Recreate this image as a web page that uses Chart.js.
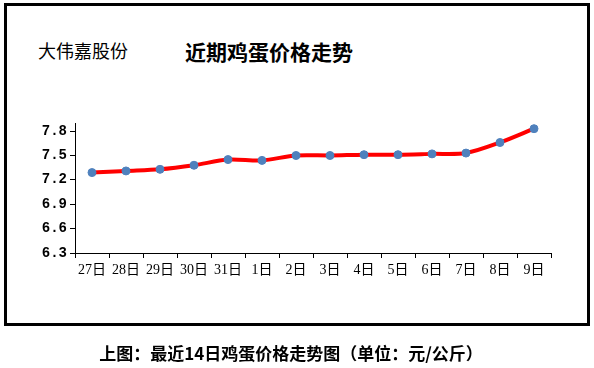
<!DOCTYPE html>
<html>
<head>
<meta charset="utf-8">
<script src="https://cdn.jsdelivr.net/npm/chart.js@4"></script>
<style>
  body { margin: 0; background: #fff; }
  #wrap { position: relative; width: 594px; height: 368px; }
  #box { position: absolute; left: 4px; top: 3px; width: 580px; height: 317px; border: 3px solid #000; }
  .txt { position: absolute; line-height: 1; white-space: nowrap; font-family: "Noto Sans CJK SC", sans-serif; color: #000; }
  #brand { left: 38px; top: 41px; font-size: 18px; }
  #title { left: 185px; top: 41px; font-size: 21px; font-weight: bold; }
  #caption { left: 0; width: 582px; text-align: center; top: 344px; font-size: 17px; font-weight: bold; }
  canvas { position: absolute; left: 0; top: 0; }
</style>
</head>
<body>
<div id="wrap">
  <div id="box"></div>
  <div class="txt" id="brand">大伟嘉股份</div>
  <div class="txt" id="title">近期鸡蛋价格走势</div>
  <canvas id="c" width="594" height="368"></canvas>
  <div class="txt" id="caption">上图：最近14日鸡蛋价格走势图（单位：元/公斤）</div>
</div>
<script>
let days = ['27日','28日','29日','30日','31日','1日','2日','3日','4日','5日','6日','7日','8日','9日'];
let prices = [7.29, 7.31, 7.33, 7.38, 7.45, 7.44, 7.50, 7.50, 7.51, 7.51, 7.52, 7.53, 7.66, 7.83];
let yTicks = [6.3, 6.6, 6.9, 7.2, 7.5, 7.8];

new Chart(document.getElementById('c').getContext('2d'), {
    type: 'line',
    data: {
        labels: days,
        datasets: [{
            data: prices,
            borderColor: '#ff0000',
            borderWidth: 4,
            tension: 0.3,
            pointBackgroundColor: '#4f81bd',
            pointBorderColor: '#4f81bd',
            pointRadius: 4,
            pointBorderWidth: 1
        }]
    },
    options: {
        responsive: false,
        animation: false,
        layout: { padding: { top: 123, right: 43, bottom: 75, left: 0 } },
        plugins: { legend: { display: false }, tooltip: { enabled: false } },
        scales: {
            x: {
                offset: true,
                grid: { drawOnChartArea: false, drawTicks: true, tickLength: 5, color: '#000', offset: true },
                border: { color: '#000', width: 1 },
                ticks: { color: '#000', padding: 4, maxRotation: 0, autoSkip: false,
                         font: { family: '"Liberation Serif", "Noto Sans CJK SC"', size: 14 } },
                afterFit: function (s) { s.height = 40; }
            },
            y: {
                min: 6.3,
                max: 7.9,
                grid: { drawOnChartArea: false, drawTicks: true, tickLength: 5, color: '#000' },
                border: { color: '#000', width: 1 },
                ticks: { color: '#000', padding: 3,
                         font: { family: '"Liberation Mono"', size: 14, weight: 'bold' },
                         callback: function (v) { return v.toFixed(1); } },
                afterBuildTicks: function (s) { s.ticks = yTicks.map(function (v) { return { value: v }; }); },
                afterFit: function (s) { s.width = 75; }
            }
        }
    }
});
</script>
</body>
</html>
